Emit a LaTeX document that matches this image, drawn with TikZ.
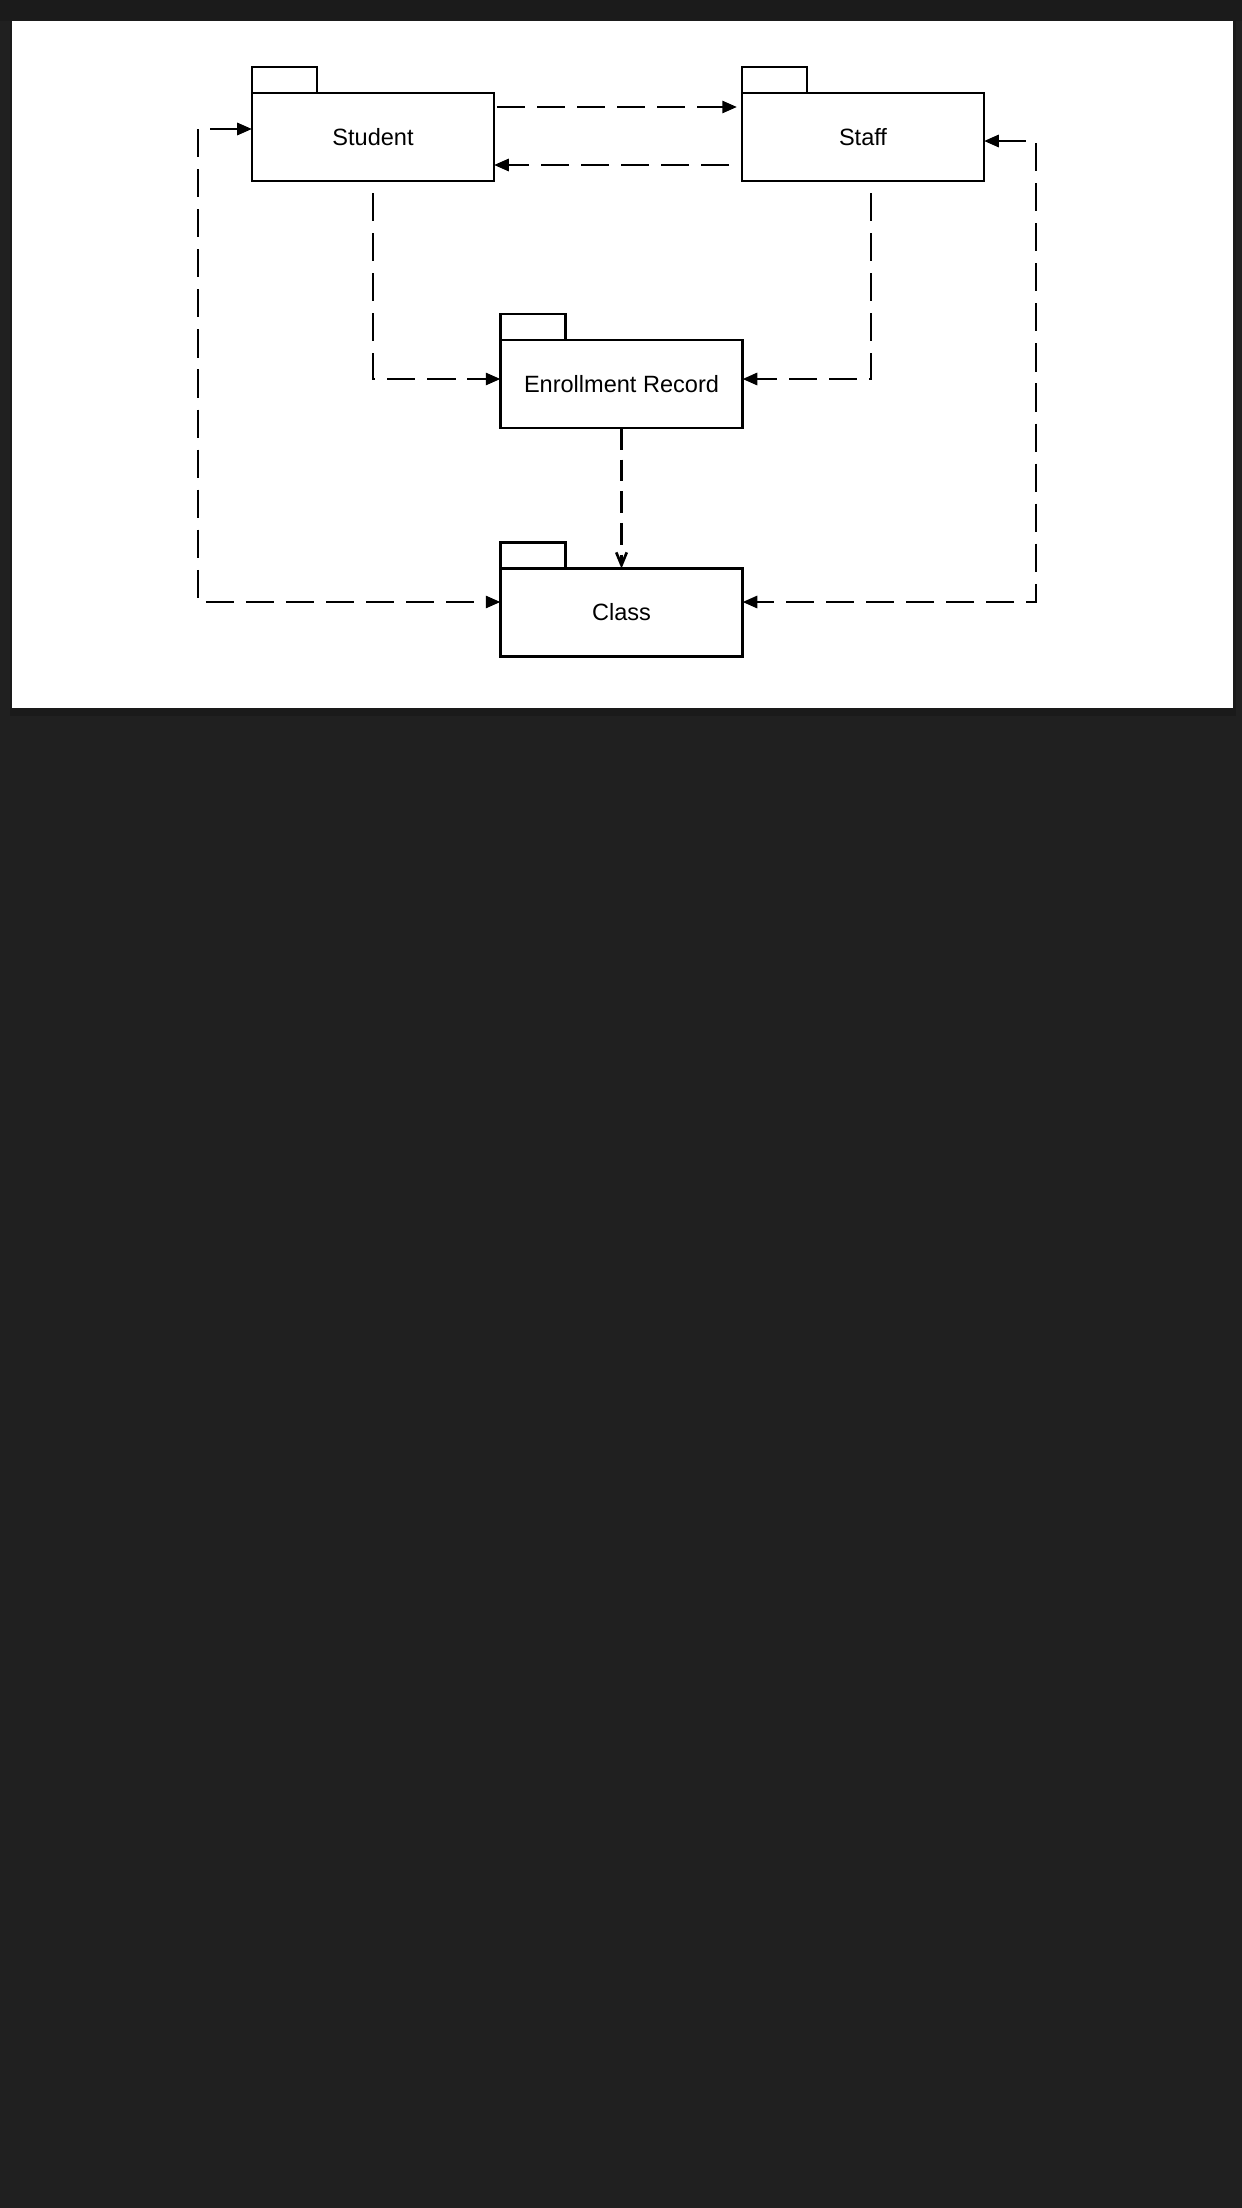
\documentclass[tikz,border=0pt]{standalone}
\usepackage{fontspec}
\setmainfont{Liberation Sans}
\usepackage{xcolor}
\usepackage{tikz}
\usetikzlibrary{positioning}
\usetikzlibrary{arrows.meta,calc}
\definecolor{bgdark}{HTML}{202020}
\definecolor{bgtop}{HTML}{1B1B1B}
\definecolor{bgshade}{HTML}{1A1A1A}
\tikzstyle{pkg}=[rectangle,draw=black,fill=white,line width=4pt,minimum width=12.1cm,minimum height=4.4cm,inner sep=0pt,outer sep=0pt,font=\fontsize{33.5}{40}\selectfont]
\tikzstyle{pkgtab}=[draw=black,line width=4pt]
\tikzstyle{dep} = [draw,line width=4.2pt,dash pattern=on 40pt off 17pt]
\tikzstyle{opendep} = [draw,line width=3.8pt,dash pattern=on 31pt off 14pt,-{Straight Barb[length=18pt,width=15pt]}]

\begin{document}
\begin{tikzpicture}[x=0.05cm,y=-0.05cm,>={Triangle[length=21pt,width=17pt]}]

 \useasboundingbox (0,0) rectangle (1242,2208);
 \fill[bgdark] (0,0) rectangle (1242,2208);
 \fill[bgtop] (0,0) rectangle (1242,21);
 \fill[bgshade] (10,21) rectangle (1236,716);
 \fill[white] (12,21) rectangle (1233,708);

 %Packages
 \foreach \x/\y/\name/\label in {373/137/student/Student, 863/137/staff/Staff, 621.5/384/enroll/Enrollment Record, 621.5/612.5/class/Class}
   {
   \node[pkg] (\name) at (\x,\y) {\label};
   \draw[pkgtab] (\name.north west) rectangle ++(65,-26);
   }

 %Student and Staff
 \path[dep,->,shorten <=0.15cm,shorten >=0.25cm] ($(student.north east)+(0,14)$) -- ($(staff.north west)+(0,14)$);
 \path[dep,->,shorten <=0.65cm] ($(staff.south west)+(0,-16)$) -- ($(student.south east)+(0,-16)$);

 %Enrollment Record
 \path[dep,->] ($(student.south)+(0,12)$) |- ($(enroll.west)+(0,-5)$);
 \path[dep,->] ($(staff.south)+(8,12)$) |- ($(enroll.east)+(0,-5)$);
 \path[opendep] (enroll.south) -- (class.north);

 %Class
 \coordinate (lloop) at (198,0);
 \coordinate (rloop) at (1036,0);
 \coordinate (cl) at ($(class.west)+(0,-10.5)$);
 \coordinate (cr) at ($(class.east)+(0,-10.5)$);
 \coordinate (sl) at ($(student.west)+(0,-8)$);
 \coordinate (sr) at ($(staff.east)+(0,4)$);

 \path[dep,<->] (sl) -- (lloop |- sl) -- (lloop |- cl) -- (cl);
 \path[dep,<->] (sr) -- (rloop |- sr) -- (rloop |- cr) -- (cr);

\end{tikzpicture}
\end{document}
